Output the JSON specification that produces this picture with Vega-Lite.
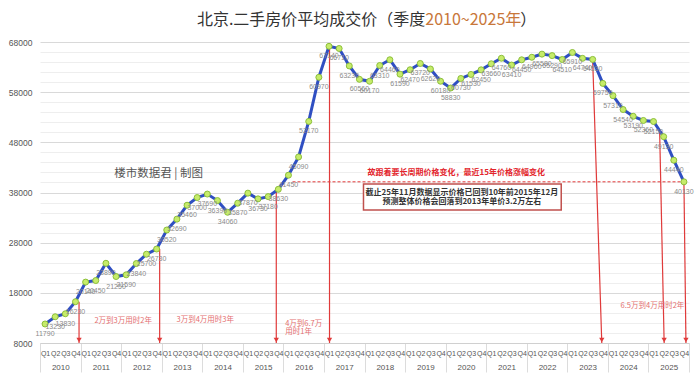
{
  "$schema": "https://vega.github.io/schema/vega-lite/v6.json",
  "width": 649,
  "height": 301,
  "autosize": {"type": "none"},
  "padding": {"left": 40, "top": 42, "right": 11, "bottom": 42},
  "background": "white",
  "config": {"view": {"stroke": null}, "font": "Liberation Sans"},
  "datasets": {
    "main": [
      {"q": 0, "v": 11790}, {"q": 1, "v": 13230}, {"q": 2, "v": 13830}, {"q": 3, "v": 16230},
      {"q": 4, "v": 20140}, {"q": 5, "v": 20450}, {"q": 6, "v": 23890}, {"q": 7, "v": 21250},
      {"q": 8, "v": 21590}, {"q": 9, "v": 23840}, {"q": 10, "v": 25700}, {"q": 11, "v": 26730},
      {"q": 12, "v": 30520}, {"q": 13, "v": 32690}, {"q": 14, "v": 35460}, {"q": 15, "v": 37000},
      {"q": 16, "v": 37690}, {"q": 17, "v": 36390}, {"q": 18, "v": 34060}, {"q": 19, "v": 35870},
      {"q": 20, "v": 37870}, {"q": 21, "v": 36730}, {"q": 22, "v": 37180}, {"q": 23, "v": 38630},
      {"q": 24, "v": 41450}, {"q": 25, "v": 45090}, {"q": 26, "v": 52170}, {"q": 27, "v": 60970},
      {"q": 28, "v": 67140}, {"q": 29, "v": 66710}, {"q": 30, "v": 63230}, {"q": 31, "v": 60560},
      {"q": 32, "v": 60170}, {"q": 33, "v": 63310}, {"q": 34, "v": 64460}, {"q": 35, "v": 61590},
      {"q": 36, "v": 62470}, {"q": 37, "v": 63720}, {"q": 38, "v": 62620}, {"q": 39, "v": 60180},
      {"q": 40, "v": 58830}, {"q": 41, "v": 60730}, {"q": 42, "v": 61530}, {"q": 43, "v": 62450},
      {"q": 44, "v": 63660}, {"q": 45, "v": 64760}, {"q": 46, "v": 63410}, {"q": 47, "v": 64450},
      {"q": 48, "v": 64960}, {"q": 49, "v": 65580}, {"q": 50, "v": 65290}, {"q": 51, "v": 64510},
      {"q": 52, "v": 65910}, {"q": 53, "v": 64740}, {"q": 54, "v": 64530}, {"q": 55, "v": 59750},
      {"q": 56, "v": 57310}, {"q": 57, "v": 54540}, {"q": 58, "v": 53190}, {"q": 59, "v": 52360},
      {"q": 60, "v": 52150}, {"q": 61, "v": 49130}, {"q": 62, "v": 44440}, {"q": 63, "v": 40130}
    ],
    "rules": [
      {"q": 3.35, "q2": 3.35, "v": 16230},
      {"q": 11.3, "q2": 11.3, "v": 26730},
      {"q": 22.8, "q2": 22.8, "v": 38630},
      {"q": 28.05, "q2": 28.05, "v": 67140},
      {"q": 54.0, "q2": 54.9, "v": 64530},
      {"q": 60.6, "q2": 61.05, "v": 50600},
      {"q": 63.0, "q2": 63.2, "v": 40130}
    ]
  },
  "layer": [
    {
      "data": {"values": [{"q": 24.4, "q2": 63, "v": 40130}]},
      "mark": {"type": "rule", "color": "#e03a3a", "strokeWidth": 1, "strokeDash": [3, 2]},
      "encoding": {
        "x": {"field": "q", "type": "quantitative", "scale": {"domain": [-0.5, 63.5], "nice": false, "zero": false},
          "axis": {"orient": "bottom", "values": [-0.5, 3.5, 7.5, 11.5, 15.5, 19.5, 23.5, 27.5, 31.5, 35.5, 39.5, 43.5, 47.5, 51.5, 55.5, 59.5, 63.5],
            "labelExpr": "datum.value < 63 ? '' + (2010 + (datum.value + 0.5) / 4) : ''",
            "ticks": true, "tickSize": 29, "tickColor": "#dcdcdc", "domain": false, "grid": false,
            "labelOffset": 20.3, "labelPadding": -9, "labelFontSize": 8, "labelColor": "#555555",
            "labelFlush": false, "labelOverlap": false, "labelBound": false, "title": null}},
        "x2": {"field": "q2"},
        "y": {"field": "v", "type": "quantitative", "scale": {"domain": [8000, 68000], "nice": false, "zero": false},
          "axis": {"orient": "left", "values": [10000, 12000, 14000, 16000, 20000, 22000, 24000, 26000, 30000, 32000, 34000, 36000, 40000, 42000, 44000, 46000, 50000, 52000, 54000, 56000, 60000, 62000, 64000, 66000],
            "grid": true, "gridColor": "#eeeeee", "labels": false, "ticks": false, "domain": false, "title": null}}
      }
    },
    {
      "data": {"values": [{"q": 31.4, "q2": 50.9, "v": 39700, "v2": 34510}]},
      "mark": {"type": "rect", "fill": "white", "stroke": "#c0504d", "strokeWidth": 1.5},
      "encoding": {
        "x": {"field": "q", "type": "quantitative", "scale": {"domain": [-0.5, 63.5], "nice": false, "zero": false}, "axis": null},
        "x2": {"field": "q2"},
        "y": {"field": "v", "type": "quantitative", "scale": {"domain": [8000, 68000], "nice": false, "zero": false}, "axis": null},
        "y2": {"field": "v2"}
      }
    },
    {
      "data": {"name": "rules"},
      "mark": {"type": "rule", "color": "#e03a3a", "strokeWidth": 1.2},
      "encoding": {
        "x": {"field": "q", "type": "quantitative", "scale": {"domain": [-0.5, 63.5], "nice": false, "zero": false}, "axis": null},
        "x2": {"field": "q2"},
        "y": {"field": "v", "type": "quantitative", "scale": {"domain": [8000, 68000], "nice": false, "zero": false}, "axis": null},
        "y2": {"datum": 8000}
      }
    },
    {
      "data": {"name": "rules"},
      "mark": {"type": "point", "shape": "triangle-down", "filled": true, "color": "#e03a3a", "size": 28, "opacity": 1, "yOffset": -3},
      "encoding": {
        "x": {"field": "q2", "type": "quantitative", "scale": {"domain": [-0.5, 63.5], "nice": false, "zero": false}, "axis": null},
        "y": {"datum": 8000, "type": "quantitative", "scale": {"domain": [8000, 68000], "nice": false, "zero": false}, "axis": null}
      }
    },
    {
      "data": {"name": "main"},
      "mark": {"type": "line", "color": "#2f4fc2", "strokeWidth": 3},
      "encoding": {
        "x": {"field": "q", "type": "quantitative", "scale": {"domain": [-0.5, 63.5], "nice": false, "zero": false},
          "axis": {"orient": "bottom", "values": [0,1,2,3,4,5,6,7,8,9,10,11,12,13,14,15,16,17,18,19,20,21,22,23,24,25,26,27,28,29,30,31,32,33,34,35,36,37,38,39,40,41,42,43,44,45,46,47,48,49,50,51,52,53,54,55,56,57,58,59,60,61,62,63],
            "labelExpr": "'Q' + (datum.value % 4 + 1)", "ticks": false, "grid": false, "domain": true, "domainColor": "#d0d0d0",
            "labelFontSize": 7, "labelColor": "#555555", "labelPadding": 6, "labelFlush": false, "labelOverlap": false, "labelBound": false, "title": null}},
        "y": {"field": "v", "type": "quantitative", "scale": {"domain": [8000, 68000], "nice": false, "zero": false},
          "axis": {"orient": "left", "values": [8000, 18000, 28000, 38000, 48000, 58000, 68000], "format": "d", "grid": true, "gridColor": "#d9d9d9",
            "ticks": false, "domain": false, "labelFontSize": 8.5, "labelColor": "#555555", "labelPadding": 8, "title": null}}
      }
    },
    {
      "data": {"name": "main"},
      "mark": {"type": "point", "filled": true, "fill": "#c6ec6a", "stroke": "#8cbf3a", "strokeWidth": 1, "size": 36, "opacity": 1},
      "encoding": {
        "x": {"field": "q", "type": "quantitative", "scale": {"domain": [-0.5, 63.5], "nice": false, "zero": false}, "axis": null},
        "y": {"field": "v", "type": "quantitative", "scale": {"domain": [8000, 68000], "nice": false, "zero": false}, "axis": null}
      }
    },
    {
      "data": {"name": "main"},
      "mark": {"type": "text", "dy": 10, "fontSize": 7, "color": "#8a8a8a", "baseline": "middle"},
      "encoding": {
        "x": {"field": "q", "type": "quantitative", "scale": {"domain": [-0.5, 63.5], "nice": false, "zero": false}, "axis": null},
        "y": {"field": "v", "type": "quantitative", "scale": {"domain": [8000, 68000], "nice": false, "zero": false}, "axis": null},
        "text": {"field": "v", "type": "quantitative", "format": "d"}
      }
    },
    {
      "data": {"values": [{"q": 37.5, "v": 72385, "t": "北京.二手房价平均成交价（季度"}]},
      "mark": {"type": "text", "align": "right", "baseline": "middle", "fontSize": 16, "font": "Noto Sans CJK SC", "color": "#333333"},
      "encoding": {
        "x": {"field": "q", "type": "quantitative", "scale": {"domain": [-0.5, 63.5], "nice": false, "zero": false}, "axis": null},
        "y": {"field": "v", "type": "quantitative", "scale": {"domain": [8000, 68000], "nice": false, "zero": false}, "axis": null},
        "text": {"field": "t"}
      }
    },
    {
      "data": {"values": [{"q": 37.5, "v": 72385, "t": "2010~2025年"}]},
      "mark": {"type": "text", "align": "left", "baseline": "middle", "fontSize": 16, "font": "Noto Sans CJK SC", "color": "#c8773a"},
      "encoding": {
        "x": {"field": "q", "type": "quantitative", "scale": {"domain": [-0.5, 63.5], "nice": false, "zero": false}, "axis": null},
        "y": {"field": "v", "type": "quantitative", "scale": {"domain": [8000, 68000], "nice": false, "zero": false}, "axis": null},
        "text": {"field": "t"}
      }
    },
    {
      "data": {"values": [{"q": 46.85, "v": 72385, "t": "）"}]},
      "mark": {"type": "text", "align": "left", "baseline": "middle", "fontSize": 16, "font": "Noto Sans CJK SC", "color": "#333333"},
      "encoding": {
        "x": {"field": "q", "type": "quantitative", "scale": {"domain": [-0.5, 63.5], "nice": false, "zero": false}, "axis": null},
        "y": {"field": "v", "type": "quantitative", "scale": {"domain": [8000, 68000], "nice": false, "zero": false}, "axis": null},
        "text": {"field": "t"}
      }
    },
    {
      "data": {"values": [{"q": 11.2, "v": 41690, "t": "楼市数据君 | 制图"}]},
      "mark": {"type": "text", "align": "center", "baseline": "middle", "fontSize": 11.5, "font": "Noto Sans CJK SC", "color": "#555555"},
      "encoding": {
        "x": {"field": "q", "type": "quantitative", "scale": {"domain": [-0.5, 63.5], "nice": false, "zero": false}, "axis": null},
        "y": {"field": "v", "type": "quantitative", "scale": {"domain": [8000, 68000], "nice": false, "zero": false}, "axis": null},
        "text": {"field": "t"}
      }
    },
    {
      "data": {"values": [{"q": 40.55, "v": 41830, "t": "故跟着要长周期价格变化，最近15年价格涨幅变化"}]},
      "mark": {"type": "text", "align": "center", "baseline": "middle", "fontSize": 8, "fontWeight": "bold", "font": "Noto Sans CJK SC", "color": "#e3242b"},
      "encoding": {
        "x": {"field": "q", "type": "quantitative", "scale": {"domain": [-0.5, 63.5], "nice": false, "zero": false}, "axis": null},
        "y": {"field": "v", "type": "quantitative", "scale": {"domain": [8000, 68000], "nice": false, "zero": false}, "axis": null},
        "text": {"field": "t"}
      }
    },
    {
      "data": {"values": [
        {"q": 41.1, "v": 37900, "t": "截止25年11月数据显示价格已回到10年前2015年12月"},
        {"q": 41.1, "v": 36170, "t": "预测整体价格会回落到2013年单价3.2万左右"}
      ]},
      "mark": {"type": "text", "align": "center", "baseline": "middle", "fontSize": 8, "fontWeight": "bold", "font": "Noto Sans CJK SC", "color": "#333333"},
      "encoding": {
        "x": {"field": "q", "type": "quantitative", "scale": {"domain": [-0.5, 63.5], "nice": false, "zero": false}, "axis": null},
        "y": {"field": "v", "type": "quantitative", "scale": {"domain": [8000, 68000], "nice": false, "zero": false}, "axis": null},
        "text": {"field": "t"}
      }
    },
    {
      "data": {"values": [
        {"q": 7.7, "v": 12450, "t": "2万到3万用时2年"},
        {"q": 15.8, "v": 12550, "t": "3万到4万用时3年"},
        {"q": 25.5, "v": 11790, "t": "4万到6.7万"},
        {"q": 25.0, "v": 10260, "t": "用时1年"},
        {"q": 59.9, "v": 15380, "t": "6.5万到4万用时2年"}
      ]},
      "mark": {"type": "text", "align": "center", "baseline": "middle", "fontSize": 7.5, "font": "Noto Sans CJK SC", "color": "#e46f6f"},
      "encoding": {
        "x": {"field": "q", "type": "quantitative", "scale": {"domain": [-0.5, 63.5], "nice": false, "zero": false}, "axis": null},
        "y": {"field": "v", "type": "quantitative", "scale": {"domain": [8000, 68000], "nice": false, "zero": false}, "axis": null},
        "text": {"field": "t"}
      }
    }
  ],
  "resolve": {"axis": {"x": "independent", "y": "independent"}}
}
